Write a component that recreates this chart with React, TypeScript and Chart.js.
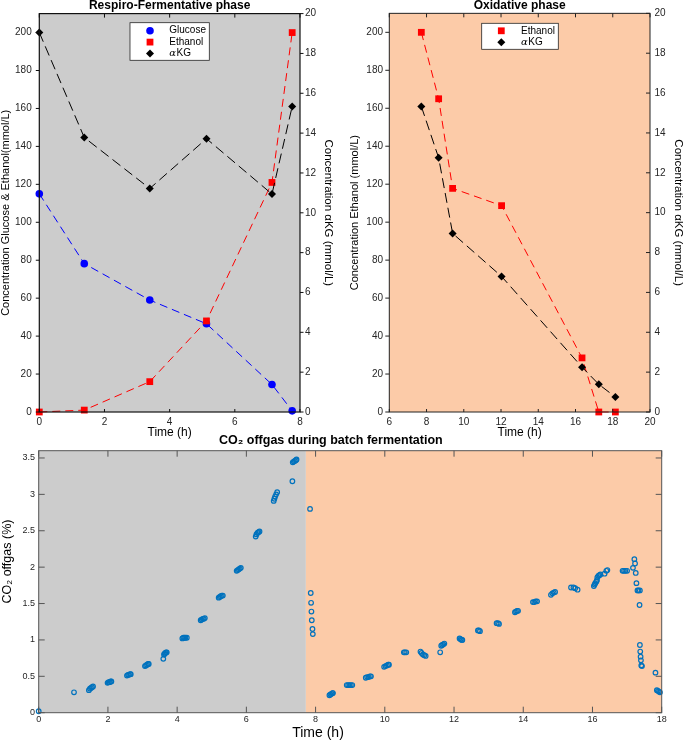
import React, { useEffect, useRef } from 'react';
import { Chart, registerables } from 'chart.js';

Chart.register(...registerables);
Chart.defaults.font.family = "'Liberation Sans', Arial, Helvetica, sans-serif";

// ---------------- Data ----------------
// Respiro-fermentative phase
const rfTime = [0, 1.38, 3.39, 5.13, 7.14, 7.76];
const rfGlucose = [115, 78.2, 59, 46.5, 14.5, 0.6];
const rfEthanol = [0, 1, 16, 48, 121, 200];
const rfAKG = [19.05, 13.78, 11.22, 13.72, 10.94, 15.34];

// Oxidative phase
const oxTime = [7.72, 8.65, 9.4, 12.03, 16.35, 17.25, 18.14];
const oxEthanol = [200, 165, 117.8, 108.7, 28.5, 0, 0];
const oxAKG = [15.33, 12.75, 8.96, 6.8, 2.25, 1.39, 0.75];

// CO2 offgas
const co2Time = [
  0, 1.02,
  1.45, 1.48, 1.51, 1.54, 1.57,
  1.99, 2.02, 2.05, 2.08, 2.1,
  2.55, 2.58, 2.61, 2.64, 2.66,
  3.07, 3.1, 3.13, 3.16, 3.18,
  3.6,
  3.62, 3.64, 3.66, 3.68, 3.7,
  4.15, 4.18, 4.21, 4.24, 4.28,
  4.68, 4.71, 4.74, 4.77, 4.8,
  5.2, 5.23, 5.26, 5.29, 5.32,
  5.72, 5.75, 5.78, 5.81, 5.84,
  6.27, 6.29, 6.32, 6.35, 6.38,
  6.79, 6.81, 6.83, 6.86, 6.89,
  7.33,
  7.34, 7.37, 7.4, 7.43, 7.45,
  7.84, 7.86, 7.87, 7.88, 7.89, 7.91, 7.92,
  8.4, 8.43, 8.46, 8.49, 8.5,
  8.9, 8.94, 8.98, 9.02, 9.06,
  9.45, 9.49, 9.53, 9.57, 9.6,
  9.98, 10.02, 10.06, 10.1, 10.12,
  10.55, 10.58, 10.62,
  11.03, 11.06, 11.1, 11.14, 11.18,
  11.6,
  11.63, 11.66, 11.69, 11.72,
  12.16, 12.19, 12.22, 12.24,
  12.69, 12.72, 12.75,
  13.23, 13.27, 13.3,
  13.76, 13.79, 13.82, 13.85,
  14.28, 14.32, 14.36, 14.4,
  14.8, 14.84, 14.88, 14.92,
  15.38, 15.45, 15.5, 15.57,
  16.04, 16.06, 16.08, 16.11, 16.13,
  16.14, 16.17, 16.2, 16.23,
  16.35, 16.4, 16.43,
  16.87, 16.91, 16.95, 17.0,
  17.17, 17.21, 17.23, 17.25, 17.27,
  17.3, 17.33, 17.37,
  17.36,
  17.37, 17.38, 17.39, 17.4, 17.41, 17.43,
  17.82,
  17.86, 17.89, 17.92, 17.95,
];
const co2Offgas = [
  0.02, 0.28,
  0.31, 0.33, 0.34, 0.35, 0.36,
  0.41, 0.42, 0.42, 0.43, 0.43,
  0.51, 0.52, 0.52, 0.53, 0.53,
  0.64, 0.65, 0.66, 0.67, 0.67,
  0.74,
  0.8, 0.81, 0.82, 0.83, 0.83,
  1.02, 1.03, 1.03, 1.03, 1.03,
  1.27, 1.28, 1.29, 1.29, 1.3,
  1.58, 1.59, 1.6, 1.61, 1.61,
  1.95, 1.96, 1.97, 1.98, 1.99,
  2.42, 2.45, 2.47, 2.48, 2.49,
  2.91, 2.94, 2.97, 3.0, 3.03,
  3.18,
  3.44, 3.45, 3.46, 3.47, 3.48,
  2.8, 1.645, 1.51, 1.39, 1.27, 1.15, 1.08,
  0.24, 0.25, 0.26, 0.27, 0.27,
  0.38, 0.38, 0.38, 0.38, 0.38,
  0.48, 0.49, 0.49, 0.5, 0.5,
  0.63, 0.64, 0.65, 0.66, 0.66,
  0.83, 0.83, 0.83,
  0.84, 0.82, 0.8, 0.79, 0.78,
  0.83,
  0.92, 0.93, 0.94, 0.95,
  1.02, 1.01, 1.0, 1.0,
  1.13, 1.13, 1.12,
  1.23, 1.23, 1.22,
  1.38, 1.39, 1.4, 1.4,
  1.52, 1.52, 1.53, 1.53,
  1.62, 1.64, 1.65, 1.66,
  1.72, 1.72, 1.71, 1.69,
  1.74, 1.76, 1.78, 1.8, 1.82,
  1.86, 1.88, 1.89, 1.9,
  1.91, 1.95, 1.96,
  1.95, 1.95, 1.95, 1.95,
  1.99, 2.11, 2.05, 1.92, 1.78,
  1.68, 1.68, 1.68,
  1.48,
  0.93, 0.84, 0.77, 0.72, 0.65, 0.64,
  0.55,
  0.31, 0.3, 0.29, 0.28,
];

const phaseSwitch = 7.72; // h, end of respiro-fermentative phase

// Tick values
const rfXTicks = [0, 2, 4, 6, 8];
const oxXTicks = [6, 8, 10, 12, 14, 16, 18, 20];
const concTicks = [0, 20, 40, 60, 80, 100, 120, 140, 160, 180, 200];
const akgTicks = [0, 2, 4, 6, 8, 10, 12, 14, 16, 18, 20];
const co2XTicks = [0, 2, 4, 6, 8, 10, 12, 14, 16, 18];
const co2YTicks = [0, 0.5, 1, 1.5, 2, 2.5, 3, 3.5];

// ---------------- Styles ----------------
const GRAY = '#cccccc';
const PEACH = '#fccba8';
const TICK_COLOR = '#262626';
const FONT = "'Liberation Sans', Arial, Helvetica, sans-serif";

const pts = (xs: number[], ys: number[]) => xs.map((x, i) => ({ x, y: ys[i] }));
const setTicks = (vals: number[]) => (s: any) => {
  s.ticks = vals.map((v) => ({ value: v }));
};

// ---------------- Plugins ----------------
function makeBackground(regions: { from?: number; to?: number; color: string }[]) {
  return {
    id: 'bgRegions',
    beforeDatasetsDraw(chart: any) {
      const { ctx, chartArea: a, scales } = chart;
      ctx.save();
      for (const r of regions) {
        const x0 = r.from === undefined ? a.left : scales.x.getPixelForValue(r.from);
        const x1 = r.to === undefined ? a.right : scales.x.getPixelForValue(r.to);
        ctx.fillStyle = r.color;
        ctx.fillRect(x0, a.top, x1 - x0, a.bottom - a.top);
      }
      ctx.restore();
    },
  };
}

type TickSpec = { scale: string; side: 'top' | 'bottom' | 'left' | 'right'; dir: 'in' | 'out'; len: number };
function makeFrame(color: string, width: number, ticks: TickSpec[]) {
  return {
    id: 'frameTicks',
    afterDatasetsDraw(chart: any) {
      const { ctx, chartArea: a } = chart;
      ctx.save();
      ctx.strokeStyle = color;
      ctx.lineWidth = width;
      ctx.strokeRect(a.left, a.top, a.right - a.left, a.bottom - a.top);
      ctx.lineWidth = 1;
      ctx.beginPath();
      for (const t of ticks) {
        const sc = chart.scales[t.scale];
        for (const tk of sc.ticks) {
          const p = sc.getPixelForValue(tk.value);
          const s = t.dir === 'in' ? 1 : -1;
          if (t.side === 'top') { ctx.moveTo(p, a.top); ctx.lineTo(p, a.top + s * t.len); }
          if (t.side === 'bottom') { ctx.moveTo(p, a.bottom); ctx.lineTo(p, a.bottom - s * t.len); }
          if (t.side === 'left') { ctx.moveTo(a.left, p); ctx.lineTo(a.left + s * t.len, p); }
          if (t.side === 'right') { ctx.moveTo(a.right, p); ctx.lineTo(a.right - s * t.len, p); }
        }
      }
      ctx.stroke();
      ctx.restore();
    },
  };
}

type LegendItem = { label: string; color: string; shape: 'circle' | 'rect' | 'rectRot'; r: number };
function drawMarker(ctx: CanvasRenderingContext2D, shape: string, x: number, y: number, r: number, color: string) {
  ctx.fillStyle = color;
  ctx.beginPath();
  if (shape === 'circle') {
    ctx.arc(x, y, r, 0, Math.PI * 2);
  } else if (shape === 'rect') {
    const s = r * Math.SQRT1_2;
    ctx.rect(x - s, y - s, 2 * s, 2 * s);
  } else {
    ctx.moveTo(x, y - r);
    ctx.lineTo(x + r, y);
    ctx.lineTo(x, y + r);
    ctx.lineTo(x - r, y);
    ctx.closePath();
  }
  ctx.fill();
}
function makeLegend(box: [number, number, number, number], markerX: number, textX: number, rows: number[], items: LegendItem[]) {
  return {
    id: 'boxLegend',
    afterDraw(chart: any) {
      const ctx: CanvasRenderingContext2D = chart.ctx;
      ctx.save();
      ctx.fillStyle = '#ffffff';
      ctx.fillRect(box[0], box[1], box[2] - box[0], box[3] - box[1]);
      ctx.strokeStyle = '#262626';
      ctx.lineWidth = 0.8;
      ctx.strokeRect(box[0], box[1], box[2] - box[0], box[3] - box[1]);
      items.forEach((it, i) => {
        const y = rows[i];
        drawMarker(ctx, it.shape, markerX, y, it.r, it.color);
        ctx.fillStyle = '#000';
        ctx.textBaseline = 'middle';
        ctx.textAlign = 'left';
        if (it.label.startsWith('α')) {
          ctx.font = `italic 10px 'DejaVu Serif', serif`;
          ctx.fillText('α', textX, y);
          const w = ctx.measureText('α').width;
          ctx.font = `10px ${FONT}`;
          ctx.fillText(it.label.slice(1), textX + w + 0.5, y);
        } else {
          ctx.font = `10px ${FONT}`;
          ctx.fillText(it.label, textX, y);
        }
      });
      ctx.restore();
    },
  };
}

function makeTexts(items: { text: string; x: number; y: number; size: number; rotate?: number; weight?: string }[]) {
  return {
    id: 'extraTexts',
    afterDraw(chart: any) {
      const ctx: CanvasRenderingContext2D = chart.ctx;
      ctx.save();
      for (const t of items) {
        ctx.save();
        ctx.translate(t.x, t.y);
        if (t.rotate) ctx.rotate(t.rotate);
        ctx.font = `${t.weight || 'normal'} ${t.size}px ${FONT}`;
        ctx.fillStyle = '#000';
        ctx.textAlign = 'center';
        ctx.textBaseline = 'middle';
        ctx.fillText(t.text, 0, 0);
        ctx.restore();
      }
      ctx.restore();
    },
  };
}

// ---------------- Helpers for axes ----------------
const tickFont = (size: number) => ({ size, family: FONT });
const numLabel = (v: any) => String(v);

function lineDataset(label: string, xs: number[], ys: number[], color: string, shape: string, r: number, axis: string, dash: number[], order: number) {
  return {
    label,
    data: pts(xs, ys),
    yAxisID: axis,
    borderColor: color,
    backgroundColor: color,
    borderWidth: 1,
    borderDash: dash,
    pointStyle: shape,
    pointRadius: r,
    pointBorderWidth: 0,
    pointBackgroundColor: color,
    tension: 0,
    clip: false,
    order,
  };
}

// ---------------- Chart configs ----------------
function rfConfig(): any {
  return {
    type: 'line',
    data: {
      datasets: [
        lineDataset('Glucose', rfTime, rfGlucose, '#0000ff', 'circle', 3.8, 'y', [8, 5], 3),
        lineDataset('Ethanol', rfTime, rfEthanol, '#ff0000', 'rect', 4.8, 'y', [8, 5], 2),
        lineDataset('αKG', rfTime, rfAKG, '#000000', 'rectRot', 4, 'y1', [10, 5], 1),
      ],
    },
    options: {
      responsive: false,
      animation: false,
      devicePixelRatio: 1,
      events: [],
      layout: { padding: 0 },
      plugins: {
        legend: { display: false },
        tooltip: { enabled: false },
        title: {
          display: true,
          text: 'Respiro-Fermentative phase',
          fullSize: false,
          color: '#000',
          font: { size: 12, weight: 'bold', lineHeight: 0.92, family: FONT },
          padding: { top: 0, bottom: 2.3 },
        },
      },
      scales: {
        x: {
          type: 'linear', position: 'bottom', min: 0, max: 8,
          afterBuildTicks: setTicks(rfXTicks),
          afterFit: (s: any) => { s.height = 31; },
          grid: { display: false, drawTicks: false },
          border: { display: false },
          ticks: { padding: 4.5, font: tickFont(10), color: TICK_COLOR, autoSkip: false, maxRotation: 0, callback: numLabel },
          title: { display: true, text: 'Time (h)', color: '#000', font: { size: 12, lineHeight: 1.2, family: FONT }, padding: { top: 0, bottom: 2.8 } },
        },
        y: {
          type: 'linear', position: 'left', min: 0, max: 210,
          afterBuildTicks: setTicks(concTicks),
          afterFit: (s: any) => { s.width = 39.3; },
          grid: { display: false, drawTicks: false },
          border: { display: false },
          ticks: { padding: 7.6, font: tickFont(10), color: TICK_COLOR, autoSkip: false, callback: numLabel },
          title: { display: true, text: 'Concentration Glucose & Ethanol(mmol/L)', color: '#000', font: { size: 11, lineHeight: 1, family: FONT }, padding: { top: 0, bottom: 0 } },
        },
        y1: {
          type: 'linear', position: 'right', min: 0, max: 20,
          afterBuildTicks: setTicks(akgTicks),
          afterFit: (s: any) => { s.width = 40; },
          grid: { display: false, drawTicks: false },
          border: { display: false },
          ticks: { padding: 5, font: tickFont(10), color: TICK_COLOR, autoSkip: false, callback: numLabel },
          title: { display: true, text: 'Concentration αKG (mmol/L)', color: '#000', font: { size: 11.5, lineHeight: 1.2, family: FONT }, padding: { top: 5.1, bottom: 0 } },
        },
      },
    },
    plugins: [
      makeBackground([{ color: GRAY }]),
      makeFrame('#111', 1.2, [
        { scale: 'x', side: 'top', dir: 'in', len: 4 },
        { scale: 'x', side: 'bottom', dir: 'in', len: 3 },
        { scale: 'y', side: 'left', dir: 'out', len: 3.5 },
        { scale: 'y1', side: 'right', dir: 'out', len: 3.5 },
      ]),
      makeLegend([130, 22.7, 209.3, 60.3], 150, 169.3, [30.7, 42.1, 53.6], [
        { label: 'Glucose', color: '#0000ff', shape: 'circle', r: 3.8 },
        { label: 'Ethanol', color: '#ff0000', shape: 'rect', r: 4.8 },
        { label: 'αKG', color: '#000000', shape: 'rectRot', r: 4 },
      ]),
    ],
  };
}

function oxConfig(): any {
  return {
    type: 'line',
    data: {
      datasets: [
        lineDataset('Ethanol', oxTime, oxEthanol, '#ff0000', 'rect', 4.8, 'y', [8, 5], 2),
        lineDataset('αKG', oxTime, oxAKG, '#000000', 'rectRot', 4, 'y1', [10, 5], 1),
      ],
    },
    options: {
      responsive: false,
      animation: false,
      devicePixelRatio: 1,
      events: [],
      layout: { padding: 0 },
      plugins: {
        legend: { display: false },
        tooltip: { enabled: false },
        title: {
          display: true,
          text: 'Oxidative phase',
          fullSize: false,
          color: '#000',
          font: { size: 12, weight: 'bold', lineHeight: 0.92, family: FONT },
          padding: { top: 0, bottom: 2.3 },
        },
      },
      scales: {
        x: {
          type: 'linear', position: 'bottom', min: 6, max: 20,
          afterBuildTicks: setTicks(oxXTicks),
          afterFit: (s: any) => { s.height = 31; },
          grid: { display: false, drawTicks: false },
          border: { display: false },
          ticks: { padding: 4.5, font: tickFont(10), color: TICK_COLOR, autoSkip: false, maxRotation: 0, callback: numLabel },
          title: { display: true, text: 'Time (h)', color: '#000', font: { size: 12, lineHeight: 1.2, family: FONT }, padding: { top: 0, bottom: 2.8 } },
        },
        y: {
          type: 'linear', position: 'left', min: 0, max: 210,
          afterBuildTicks: setTicks(concTicks),
          afterFit: (s: any) => { s.width = 49.3; },
          grid: { display: false, drawTicks: false },
          border: { display: false },
          ticks: { padding: 6.3, font: tickFont(10), color: TICK_COLOR, autoSkip: false, callback: numLabel },
          title: { display: true, text: 'Concentration Ethanol (mmol/L)', color: '#000', font: { size: 11, lineHeight: 1.2, family: FONT }, padding: { top: 8.4, bottom: 0 } },
        },
        y1: {
          type: 'linear', position: 'right', min: 0, max: 20,
          afterBuildTicks: setTicks(akgTicks),
          afterFit: (s: any) => { s.width = 35; },
          grid: { display: false, drawTicks: false },
          border: { display: false },
          ticks: { padding: 4.5, font: tickFont(10), color: TICK_COLOR, autoSkip: false, callback: numLabel },
          title: { display: true, text: 'Concentration αKG (mmol/L)', color: '#000', font: { size: 11.5, lineHeight: 1.2, family: FONT }, padding: { top: 0.2, bottom: 0 } },
        },
      },
    },
    plugins: [
      makeBackground([{ color: PEACH }]),
      makeFrame('#222', 1, [
        { scale: 'x', side: 'top', dir: 'in', len: 4 },
        { scale: 'x', side: 'bottom', dir: 'in', len: 3 },
        { scale: 'y', side: 'left', dir: 'out', len: 4 },
        { scale: 'y1', side: 'right', dir: 'in', len: 4 },
      ]),
      makeLegend([141.7, 23.3, 218.3, 49.3], 161.3, 181, [30.8, 42.2], [
        { label: 'Ethanol', color: '#ff0000', shape: 'rect', r: 4.8 },
        { label: 'αKG', color: '#000000', shape: 'rectRot', r: 4 },
      ]),
    ],
  };
}

function co2Config(): any {
  return {
    type: 'scatter',
    data: {
      datasets: [
        {
          label: 'CO₂ offgas',
          data: pts(co2Time, co2Offgas),
          pointStyle: 'circle',
          pointRadius: 2.3,
          pointBorderWidth: 1.2,
          borderColor: '#0072bd',
          backgroundColor: 'rgba(0,0,0,0)',
          pointBackgroundColor: 'rgba(0,0,0,0)',
          clip: false,
        },
      ],
    },
    options: {
      responsive: false,
      animation: false,
      devicePixelRatio: 1,
      events: [],
      layout: { padding: { left: 0, right: 23.3, top: 0, bottom: 0 } },
      plugins: {
        legend: { display: false },
        tooltip: { enabled: false },
        title: {
          display: true,
          text: 'CO₂ offgas during batch fermentation',
          color: '#000',
          font: { size: 12.5, weight: 'bold', lineHeight: 1.2, family: FONT },
          padding: { top: 3.5, bottom: 2.2 },
        },
      },
      scales: {
        x: {
          type: 'linear', position: 'bottom', min: 0, max: 18,
          afterBuildTicks: setTicks(co2XTicks),
          afterFit: (s: any) => { s.height = 30.3; },
          grid: { display: false, drawTicks: false },
          border: { display: false },
          ticks: { padding: 1.2, font: tickFont(9), color: TICK_COLOR, autoSkip: false, maxRotation: 0, callback: numLabel },
        },
        y: {
          type: 'linear', position: 'left', min: 0, max: 3.6,
          afterBuildTicks: setTicks(co2YTicks),
          afterFit: (s: any) => { s.width = 38.7; },
          grid: { display: false, drawTicks: false },
          border: { display: false },
          ticks: { padding: 3.7, font: tickFont(9), color: TICK_COLOR, autoSkip: false, callback: numLabel },
        },
      },
    },
    plugins: [
      makeBackground([
        { to: phaseSwitch, color: GRAY },
        { from: phaseSwitch, color: PEACH },
      ]),
      makeFrame('#555', 1, [
        { scale: 'x', side: 'top', dir: 'in', len: 6 },
        { scale: 'x', side: 'bottom', dir: 'in', len: 6 },
        { scale: 'y', side: 'left', dir: 'in', len: 6 },
        { scale: 'y', side: 'right', dir: 'in', len: 6 },
      ]),
      makeTexts([
        { text: 'Time (h)', x: 318, y: 303, size: 14 },
        { text: 'CO₂ offgas (%)', x: 7.5, y: 131.5, size: 12.5, rotate: -Math.PI / 2 },
      ]),
    ],
  };
}

function ChartCanvas({ left, top, width, height, make }: { left: number; top: number; width: number; height: number; make: () => any }) {
  const ref = useRef<HTMLCanvasElement>(null);
  useEffect(() => {
    const chart = new Chart(ref.current as HTMLCanvasElement, make());
    return () => chart.destroy();
  }, []);
  return (
    <canvas
      ref={ref}
      width={width}
      height={height}
      style={{ position: 'absolute', left, top, width, height, display: 'block' }}
    />
  );
}

export default function App() {
  return (
    <div style={{ position: 'absolute', left: 0, top: 0, width: 685, height: 743, background: '#ffffff', overflow: 'hidden' }}>
      <ChartCanvas left={0} top={0} width={340} height={443} make={rfConfig} />
      <ChartCanvas left={340} top={0} width={345} height={443} make={oxConfig} />
      <ChartCanvas left={0} top={430} width={685} height={313} make={co2Config} />
    </div>
  );
}
